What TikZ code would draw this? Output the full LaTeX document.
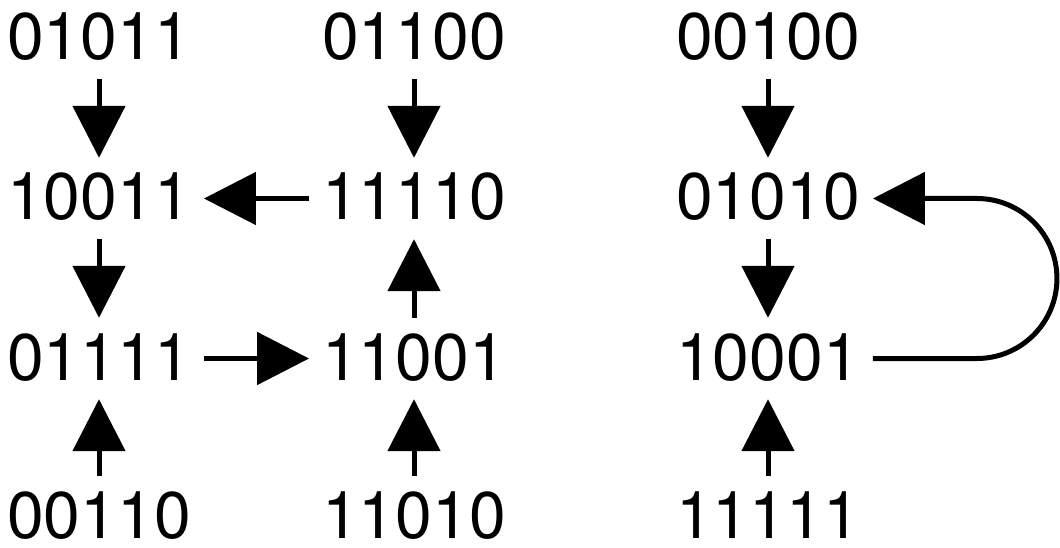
\documentclass[tikz,border=0pt]{standalone}
\usepackage{fontspec}
\setmainfont{TeX Gyre Heros}
\usepackage{tikz}
\usetikzlibrary{arrows.meta}
\tikzset{
	bits/.style = {inner sep=0pt, inner xsep=13pt, text height=62pt,
		text depth=19pt, anchor=base, font=\fontsize{66}{70}\selectfont},
	lowbits/.style = {bits, text depth=0pt}, % bottom row
	link/.style = {line width=5pt, -{Triangle[length=52pt,width=52pt]}}
}
\begin{document}
\begin{tikzpicture}[>=latex]
	\useasboundingbox (0,0) rectangle (1060pt,-548pt);
	\draw
	
	node at (99pt,-60pt) [bits] (n01011) {01011}
	node at (99pt,-220pt) [bits] (n10011) {10011}
	node at (99pt,-380pt) [bits] (n01111) {01111}
	node at (99pt,-538pt) [lowbits] (n00110) {00110}
	node at (414pt,-60pt) [bits] (n01100) {01100}
	node at (414pt,-220pt) [bits] (n11110) {11110}
	node at (414pt,-380pt) [bits] (n11001) {11001}
	node at (414pt,-538pt) [lowbits] (n11010) {11010}
	node at (768pt,-60pt) [bits] (n00100) {00100}
	node at (768pt,-220pt) [bits] (n01010) {01010}
	node at (768pt,-380pt) [bits] (n10001) {10001}
	node at (768pt,-538pt) [lowbits] (n11111) {11111};

	
	\draw[link](n01011)--(n10011);
	\draw[link](n10011)--(n01111);
	\draw[link](n00110)--(n01111);
	\draw[link](n01111)--(n11001);
	\draw[link](n11110)--(n10011);
	\draw[link](n01100)--(n11110);
	\draw[link](n11001)--(n11110);
	\draw[link](n11010)--(n11001);
	\draw[link](n00100)--(n01010);
	\draw[link](n01010)--(n10001);
	\draw[link](n11111)--(n10001);
	\draw[link](n10001.east)--++(104pt,0pt)
		arc[start angle=-90,end angle=90,radius=80pt]--(n01010.east);
\end{tikzpicture}
\end{document}
